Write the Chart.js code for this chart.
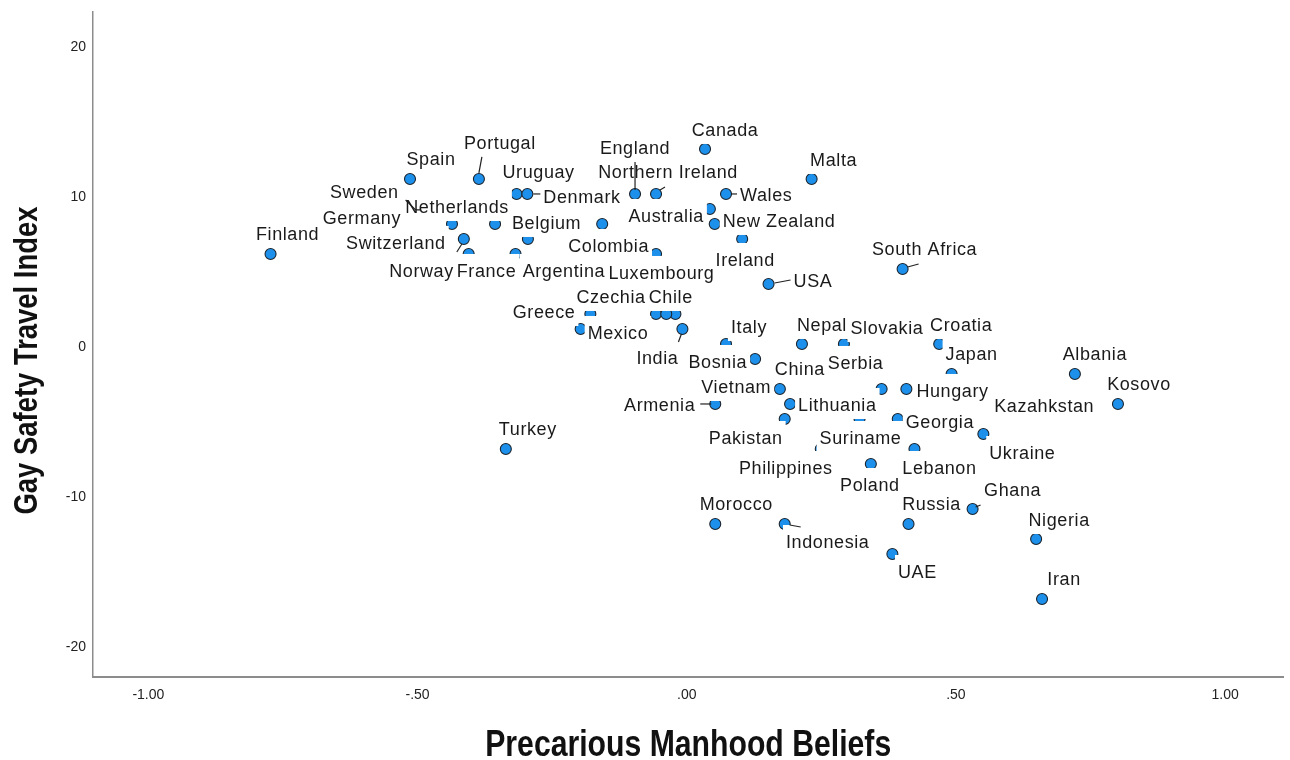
<!DOCTYPE html>
<html><head><meta charset="utf-8">
<script src="https://cdn.jsdelivr.net/npm/chart.js@4.4.1/dist/chart.umd.min.js"></script>
<style>html,body{margin:0;padding:0;background:#fff;}canvas{display:block;}</style>
</head><body>
<canvas id="c" width="1290" height="760"></canvas>
<script>
const countries = ['Finland','Spain','Portugal','Uruguay','Denmark','Sweden','Netherlands','Germany','Norway','Switzerland',
 'France','Argentina','Belgium','England','Northern Ireland','Canada','Malta','Wales','Australia','New Zealand',
 'Colombia','Ireland','USA','Luxembourg','Czechia','Chile','Greece','Mexico','India','Italy',
 'Bosnia','China','Vietnam','Armenia','Lithuania','Pakistan','Suriname','Serbia','Hungary','Nepal',
 'Slovakia','Croatia','Japan','Georgia','Ukraine','Lebanon','Philippines','Poland','Albania','Kosovo',
 'Kazahkstan','Turkey','South Africa','Morocco','Indonesia','Russia','Ghana','Nigeria','UAE','Iran'];
const manhoodBeliefs = [-0.773,-0.514,-0.386,-0.316,-0.296,-0.485,-0.356,-0.436,-0.414,-0.405,
 -0.318,-0.295,-0.157,-0.096,-0.057,0.034,0.232,0.073,0.043,0.052,
 -0.057,0.103,0.152,-0.021,-0.057,-0.038,-0.179,-0.197,-0.008,0.073,
 0.127,0.173,0.105,0.053,0.192,0.182,0.321,0.362,0.408,0.214,
 0.292,0.469,0.492,0.392,0.551,0.423,0.249,0.342,0.721,0.801,
 0.651,-0.336,0.401,0.053,0.182,0.412,0.531,0.649,0.382,0.660];
const gaySafetyIndex = [6,11,11,10,10,9,8,8,7,6,
 6,7,8,10,10,13,11,10,9,8,
 6,7,4,2,2,2,2,1,1,0,
 -1,-3,-3,-4,-4,-5,-5,-3,-3,0,
 0,0,-2,-5,-6,-7,-7,-8,-2,-4,
 -4,-7,5,-12,-12,-12,-11,-13,-14,-17];
const xTickValues = [-1,-0.5,0,0.5,1];
const xTickLabels = ['-1.00','-.50','.00','.50','1.00'];
const yTickValues = [-20,-10,0,10,20];
const yTickLabels = ['-20','-10','0','10','20'];
const xTitle = 'Precarious Manhood Beliefs';
const yTitle = 'Gay Safety Travel Index';

// label placement (style only): [align, dx, dy(baseline), leader polyline offsets]
const labelLayout = [
 ['c',17,-14],['c',21,-14],['c',21,-30,[[0,-6],[3,-22]]],['c',22,-16],['l',16,9,[[6,0],[13,0]]],
 ['r',-27,-11,[[-20,-9],[-10,1],[-5,1]]],['c',-38,-11],['r',-51,0],['r',-10,38,[[-2,5],[-7,13]]],['r',-23,-5],
 ['c',-29,23],['c',36,38],['r',-21,5],['c',0,-40,[[0,-32],[0,-4]]],['c',12,-16,[[4,-4],[9,-7]]],
 ['c',20,-13],['c',22,-13],['l',14,7,[[5,0],[11,0]]],['r',-6,13],['l',8,3],
 ['r',-7,-2],['c',3,27],['l',25,3,[[6,-1],[22,-4]]],['c',-14,-35],['c',-45,-11],
 ['c',4.5,-11],['r',-15,4],['l',7,10],['c',-25,35,[[-1,5],[-4,13]]],['c',23,-11],
 ['r',-8,9],['c',20,-14],['c',-7,4],['r',-20,7,[[-15,0],[-4,0]]],['l',8,7],
 ['c',-39,25],['c',1,25],['c',-26,-20],['l',10,8],['c',20,-13],
 ['c',43,-10],['c',22,-13],['c',20,-14],['l',8,9],['c',39,25],
 ['c',25,25],['c',-35,25],['c',-1,27],['c',20,-14],['c',21,-14],
 ['c',7,8],['c',22,-14],['c',22,-14,[[5,-2],[16,-5]]],['c',21,-14],['c',43,24,[[5,1],[16,3]]],
 ['c',23,-14],['c',40,-13,[[3,-2],[8,-4]]],['c',23,-13],['c',25,24],['c',22,-14]
];

const pointLabelPlugin = {
  id: 'pointLabels',
  afterDatasetsDraw(chart) {
    const ctx = chart.ctx;
    const meta = chart.getDatasetMeta(0);
    ctx.save();
    ctx.font = '18px "Liberation Sans", Arial, sans-serif';
    if ('letterSpacing' in ctx) ctx.letterSpacing = '0.6px';
    ctx.textBaseline = 'alphabetic';
    ctx.textAlign = 'left';
    const items = meta.data.map((el, i) => {
      const [al, dx, dy, leader] = labelLayout[i];
      const w = ctx.measureText(countries[i]).width;
      const ax = el.x + dx, by = el.y + dy;
      const left = al === 'l' ? ax : (al === 'r' ? ax - w : ax - w / 2);
      return {left, by, w, el, leader, text: countries[i]};
    });
    ctx.fillStyle = '#ffffff';
    items.forEach(it => ctx.fillRect(it.left - 3, it.by - 23, it.w + 6, 31));
    ctx.strokeStyle = '#222';
    ctx.lineWidth = 1.2;
    items.forEach(it => {
      if (!it.leader) return;
      ctx.beginPath();
      it.leader.forEach(([lx, ly], k) => {
        const X = it.el.x + lx, Y = it.el.y + ly;
        if (k) ctx.lineTo(X, Y); else ctx.moveTo(X, Y);
      });
      ctx.stroke();
    });
    ctx.fillStyle = '#1a1a1a';
    items.forEach(it => ctx.fillText(it.text, it.left, it.by));
    ctx.restore();
  }
};

const axisTitlePlugin = {
  id: 'axisTitles',
  afterDraw(chart) {
    const {ctx, chartArea: a} = chart;
    ctx.save();
    ctx.fillStyle = '#111';
    ctx.textAlign = 'center';
    ctx.textBaseline = 'alphabetic';
    ctx.font = 'bold 36px "Liberation Sans Narrow", "Arial Narrow", "Liberation Sans", sans-serif';
    let w = ctx.measureText(xTitle).width;
    ctx.translate((a.left + a.right) / 2, 756);
    ctx.scale(406 / w, 1);
    ctx.fillText(xTitle, 0, 0);
    ctx.restore();
    ctx.save();
    ctx.fillStyle = '#111';
    ctx.textAlign = 'center';
    ctx.textBaseline = 'alphabetic';
    ctx.font = 'bold 33px "Liberation Sans Narrow", "Arial Narrow", "Liberation Sans", sans-serif';
    w = ctx.measureText(yTitle).width;
    ctx.translate(37, (a.top + a.bottom) / 2 + 16);
    ctx.rotate(-Math.PI / 2);
    ctx.scale(308 / w, 1);
    ctx.fillText(yTitle, 0, 0);
    ctx.restore();
  }
};

const tickFont = {family: '"Liberation Sans", Arial, sans-serif', size: 14};

new Chart(document.getElementById('c'), {
  type: 'scatter',
  data: {
    datasets: [{
      data: countries.map((c, i) => ({x: manhoodBeliefs[i], y: gaySafetyIndex[i]})),
      pointRadius: 5.5,
      pointHoverRadius: 5.5,
      pointBackgroundColor: '#1c90ea',
      pointBorderColor: '#1b2530',
      pointBorderWidth: 1.1
    }]
  },
  options: {
    responsive: false,
    animation: false,
    events: [],
    layout: {padding: {top: 12, right: 3, left: 0, bottom: 0}},
    plugins: {legend: {display: false}, tooltip: {enabled: false}},
    scales: {
      x: {
        type: 'linear', min: -1.1028, max: 1.1083,
        grid: {display: false, drawTicks: false},
        border: {display: true, color: '#8c8c8c', width: 2},
        ticks: {font: tickFont, color: '#222', padding: 10, maxRotation: 0, autoSkip: false,
                callback: (v, i) => xTickLabels[i]},
        afterBuildTicks: s => { s.ticks = xTickValues.map(v => ({value: v})); },
        afterFit: s => { s.height = 83; s.paddingLeft = 0; s.paddingRight = 0; }
      },
      y: {
        type: 'linear', min: -22.2, max: 22.13,
        grid: {display: false, drawTicks: false},
        border: {display: true, color: '#8c8c8c', width: 1.5},
        ticks: {font: tickFont, color: '#222', padding: 7, autoSkip: false, labelOffset: 3,
                callback: (v, i) => yTickLabels[i]},
        afterBuildTicks: s => { s.ticks = yTickValues.map(v => ({value: v})); },
        afterFit: s => { s.width = 93; s.paddingTop = 0; s.paddingBottom = 0; }
      }
    }
  },
  plugins: [pointLabelPlugin, axisTitlePlugin]
});
</script>
</body></html>
